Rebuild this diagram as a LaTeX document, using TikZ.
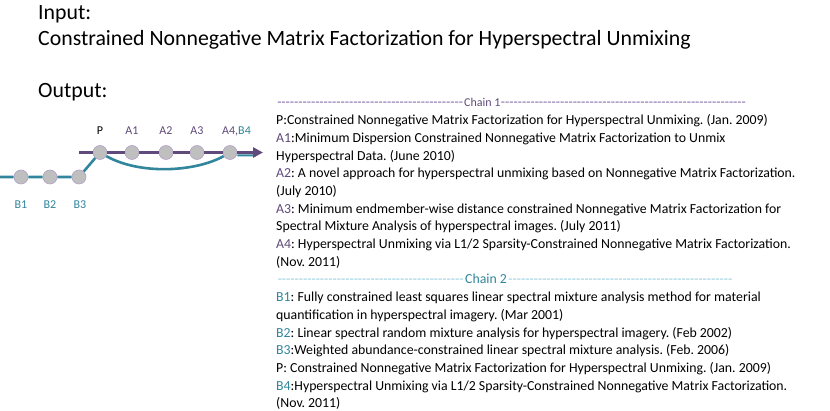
\documentclass[tikz,border=0pt]{standalone}
\usepackage{fontspec}
\usetikzlibrary{arrows.meta}
\newfontfamily\calfont{Carlito}
\definecolor{cpurple}{HTML}{604A7B}
\definecolor{cplabel}{HTML}{5F497A}
\definecolor{cpdash}{HTML}{8064A2}
\definecolor{cteal}{HTML}{31859C}
\definecolor{ctdash}{HTML}{93CDDD}
\definecolor{nodefill}{HTML}{BFBFBF}
\definecolor{nodeedge}{HTML}{B3A2C7}
\newcommand\dashfill[1]{\hbox to #1{\cleaders\hbox{-}\hfill}}
\frenchspacing
\begin{document}
\begin{tikzpicture}[x=1pt,y=-1pt,
  every node/.style={inner sep=0pt},
  title/.style={anchor=base west,font=\calfont\fontsize{21.8}{26}\selectfont},
  txt/.style={anchor=base west,font=\calfont\fontsize{13.8}{16}\selectfont},
  lab/.style={font=\calfont\fontsize{12}{14}\selectfont},
  dot/.style={circle,fill=nodefill,draw=nodeedge,line width=0.6pt,minimum size=14pt},
  pline/.style={draw=cpurple,line width=3pt},
  tline/.style={draw=cteal,line width=2.6pt}]
\useasboundingbox (0,0) rectangle (830,411);

% titles
\node[title] (tin) at (38,20) {Input:};
\node[title] (tcn) at (38,46) {Constrained Nonnegative Matrix Factorization for Hyperspectral Unmixing};
\node[title] (tout) at (38,98) {Output:};

% coordinates for free ends
\coordinate (tstart) at (0,177);
\coordinate (pstart) at (79,152.5);
\coordinate (pend) at (263,152.5);
\coordinate (tend) at (256,155.5);

% nodes
\node[dot] (b1) at (21,177) {};
\node[dot] (b2) at (50,177) {};
\node[dot] (b3) at (79,177) {};
\node[dot] (p) at (100,152.5) {};
\node[dot] (a1) at (132,152.5) {};
\node[dot] (a2) at (166,152.5) {};
\node[dot] (a3) at (197,152.5) {};
\node[dot] (a4) at (230,152.5) {};

% teal chain
\draw[tline] (tstart) -- (b1) -- (b2) -- (b3) -- (p);
\draw[tline] (p.-30) .. controls (140,175) and (195,172) .. (a4.-150);
\draw[tline,line width=2pt] ([yshift=-2.8pt]a4.east) -- (tend);
% purple chain
\draw[pline] (pstart) -- (p) -- (a1) -- (a2) -- (a3) -- (a4);
\draw[pline,-{Triangle[length=10pt,width=10pt]}] (a4) -- (pend);

% labels
\node[lab] (lp) at (100,131) {P};
\node[lab,text=cplabel] (la1) at (132,131) {A1};
\node[lab,text=cplabel] (la2) at (166,131) {A2};
\node[lab,text=cplabel] (la3) at (197,131) {A3};
\node[lab,anchor=west] (la4) at (222,131) {\textcolor{cplabel}{A4,}\textcolor{cteal}{B4}};
\node[lab,text=cteal] (lb1) at (21,205) {B1};
\node[lab,text=cteal] (lb2) at (50,205) {B2};
\node[lab,text=cteal] (lb3) at (80,205) {B3};

% chain 1 text
\node[txt] (c1) at (276,107) {\textcolor{cpdash}{\dashfill{188pt}}\textcolor{cplabel}{\fontsize{12}{14}\selectfont Chain 1}\textcolor{cpdash}{\dashfill{246pt}}};
\node[txt] (l1) at (276,124.7) {P:Constrained Nonnegative Matrix Factorization for Hyperspectral Unmixing. (Jan. 2009)};
\node[txt] (l2) at (276,142.4) {\textcolor{cplabel}{A1}:Minimum Dispersion Constrained Nonnegative Matrix Factorization to Unmix};
\node[txt] (l3) at (276,160.1) {Hyperspectral Data. (June 2010)};
\node[txt] (l4) at (276,177.8) {\textcolor{cplabel}{A2}: A novel approach for hyperspectral unmixing based on Nonnegative Matrix Factorization.};
\node[txt] (l5) at (276,195.5) {(July 2010)};
\node[txt] (l6) at (276,213.2) {\textcolor{cplabel}{A3}: Minimum endmember-wise distance constrained Nonnegative Matrix Factorization for};
\node[txt] (l7) at (276,230.9) {Spectral Mixture Analysis of hyperspectral images. (July 2011)};
\node[txt] (l8) at (276,248.6) {\textcolor{cplabel}{A4}: Hyperspectral Unmixing via L1/2 Sparsity-Constrained Nonnegative Matrix Factorization.};
\node[txt] (l9) at (276,266.3) {(Nov. 2011)};

% chain 2 text
\node[txt] (c2) at (276,284) {\textcolor{ctdash}{\dashfill{189pt}}\textcolor{cteal}{Chain 2}\textcolor{ctdash}{\dashfill{227pt}}};
\node[txt] (m1) at (276,301.7) {\textcolor{cteal}{B1}: Fully constrained least squares linear spectral mixture analysis method for material};
\node[txt] (m2) at (276,319.4) {quantification in hyperspectral imagery. (Mar 2001)};
\node[txt] (m3) at (276,337.1) {\textcolor{cteal}{B2}: Linear spectral random mixture analysis for hyperspectral imagery. (Feb 2002)};
\node[txt] (m4) at (276,354.8) {\textcolor{cteal}{B3}:Weighted abundance-constrained linear spectral mixture analysis. (Feb. 2006)};
\node[txt] (m5) at (276,372.5) {P: Constrained Nonnegative Matrix Factorization for Hyperspectral Unmixing. (Jan. 2009)};
\node[txt] (m6) at (276,390.2) {\textcolor{cteal}{B4}:Hyperspectral Unmixing via L1/2 Sparsity-Constrained Nonnegative Matrix Factorization.};
\node[txt] (m7) at (276,407.9) {(Nov. 2011)};
\end{tikzpicture}
\end{document}
